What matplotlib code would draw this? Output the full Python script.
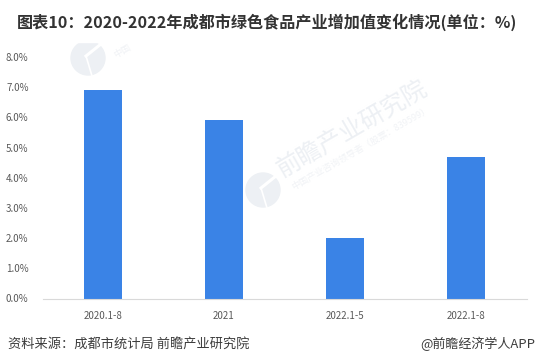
import matplotlib
matplotlib.use("Agg")
import matplotlib.pyplot as plt
from matplotlib.lines import Line2D
from matplotlib.patches import Circle, Rectangle

plt.rcParams["font.family"] = ["Noto Sans CJK SC", "DejaVu Sans"]

W, H = 536, 363

categories = ["2020.1-8", "2021", "2022.1-5", "2022.1-8"]
values = [6.9, 5.9, 2.0, 4.7]
y_ticks = [0, 1, 2, 3, 4, 5, 6, 7, 8]
title = "图表10：2020-2022年成都市绿色食品产业增加值变化情况(单位：%)"
source = "资料来源：成都市统计局 前瞻产业研究院"
credit = "@前瞻经济学人APP"
mark_name = "前瞻产业研究院"
mark_sub = "中国产业咨询领导者（股票：839599）"


def add_logo(fig, cx, cy):
    """Round watermark logo with a white notch, centre given in pixels from top-left."""
    y = H - cy
    fig.add_artist(Circle((cx, y), 17, color="#edf0f4", transform=None, zorder=0))
    fig.add_artist(Line2D([cx - 2, cx + 13], [y + 2, y + 14], color="white", lw=2.2,
                          transform=None, zorder=0))
    fig.add_artist(Line2D([cx - 2, cx + 4], [y + 2, y - 18], color="white", lw=1.2,
                          transform=None, zorder=0))


def add_mark_text(fig, text, x, y, size, color="#edf0f4"):
    fig.text(x / W, 1 - y / H, text, fontsize=size, color=color, rotation=30,
             rotation_mode="anchor", ha="left", va="center", zorder=0)


fig = plt.figure(figsize=(W / 100, H / 100), dpi=100, facecolor="white")

# watermark in the middle of the plot
add_logo(fig, 263, 190)
add_mark_text(fig, mark_name, 279, 172, 17.5)
add_mark_text(fig, mark_sub, 292, 188, 6.6, "#f1f3f6")

# second watermark, cut off by the title band
add_logo(fig, 88, 58)
add_mark_text(fig, mark_sub[:2], 114, 56, 6.6, "#f1f3f6")
fig.add_artist(Rectangle((0, H - 42), W, 42, color="white", transform=None, zorder=0.5))

ax = fig.add_axes([42.5 / W, 1 - 298.5 / H, 484 / W, 241.5 / H])
ax.patch.set_alpha(0)
ax.bar(range(len(values)), values, width=0.314, color="#3a83e6", zorder=2)
ax.set_xlim(-0.5, 3.5)
ax.set_ylim(0, 8)
ax.set_yticks(y_ticks)
ax.set_yticklabels([f"{v:.1f}%" for v in y_ticks])
ax.set_xticks(range(len(categories)))
ax.set_xticklabels(categories)
ax.tick_params(length=0, labelsize=7, labelcolor="#595959")
ax.tick_params(axis="x", pad=9)
ax.tick_params(axis="y", pad=10)
for side in ("top", "right", "left"):
    ax.spines[side].set_visible(False)
ax.spines["bottom"].set_color("#d9d9d9")

fig.text(267.5 / W, 1 - 22 / H, title, fontsize=11.6, fontweight="bold",
         color="#333333", ha="center", va="center")
fig.text(7.5 / W, 1 - 344 / H, source, fontsize=9.5, color="#3c3c3c",
         ha="left", va="center")
fig.text(535 / W, 1 - 344 / H, credit, fontsize=9.4, color="#3c3c3c",
         ha="right", va="center")

fig.savefig("out.png", dpi=100)
